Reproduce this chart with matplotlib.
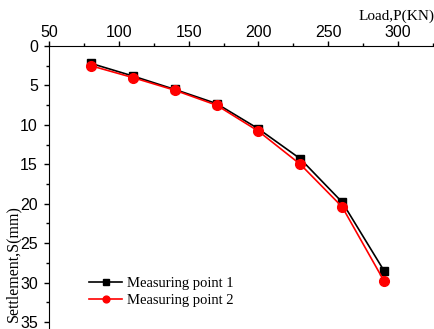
import matplotlib
matplotlib.use("Agg")
import matplotlib.pyplot as plt
from matplotlib.ticker import MultipleLocator

# ── Data ─────────────────────────────────────────────────────────────────────
load = [80, 110, 140, 170, 200, 230, 260, 290]
settle_p1 = [2.2, 3.8, 5.5, 7.3, 10.5, 14.3, 19.8, 28.5]
settle_p2 = [2.5, 4.0, 5.6, 7.5, 10.8, 15.0, 20.4, 29.8]

fig = plt.figure(figsize=(4.35, 3.29), dpi=100)
ax = fig.add_axes([0.113, 0.0, 0.882, 0.86])

ax.plot(load, settle_p1, color="black", marker="s", markersize=6, linewidth=1.2,
        label="Measuring point 1")
ax.plot(load, settle_p2, color="red", marker="o", markersize=7, linewidth=1.2,
        label="Measuring point 2")

ax.set_xlim(50, 325)
ax.set_ylim(35.9, 0)

# axes look: only top and left spines, ticks outward
ax.spines["right"].set_visible(False)
ax.spines["bottom"].set_visible(False)
ax.xaxis.tick_top()
ax.xaxis.set_major_locator(MultipleLocator(50))
ax.xaxis.set_minor_locator(MultipleLocator(25))
ax.yaxis.set_major_locator(MultipleLocator(5))
ax.yaxis.set_minor_locator(MultipleLocator(2.5))
ax.tick_params(which="major", direction="out", length=3.6, width=1, labelsize=11.5)
ax.tick_params(axis="x", which="major", pad=0.5)
ax.tick_params(axis="y", which="major", pad=4.5)
ax.tick_params(which="minor", direction="out", length=2.5, width=1)
for lab in ax.get_xticklabels() + ax.get_yticklabels():
    lab.set_family("Liberation Sans")

# axis titles
fig.text(0.03, 0.375, "Settlement,S(mm)", family="Liberation Serif", fontsize=11.5,
         rotation=90, ha="center", va="top")
fig.text(0.998, 0.93, "Load,P(KN)", family="Liberation Serif", fontsize=11,
         ha="right", va="bottom")

ax.legend(loc="lower left", bbox_to_anchor=(0.069, 0.03), frameon=False,
          prop={"family": "Liberation Serif", "size": 10.5},
          handlelength=2.3, handletextpad=0.35, labelspacing=0.3, markerscale=0.7)

plt.savefig("out.png", dpi=100)
plt.close()
